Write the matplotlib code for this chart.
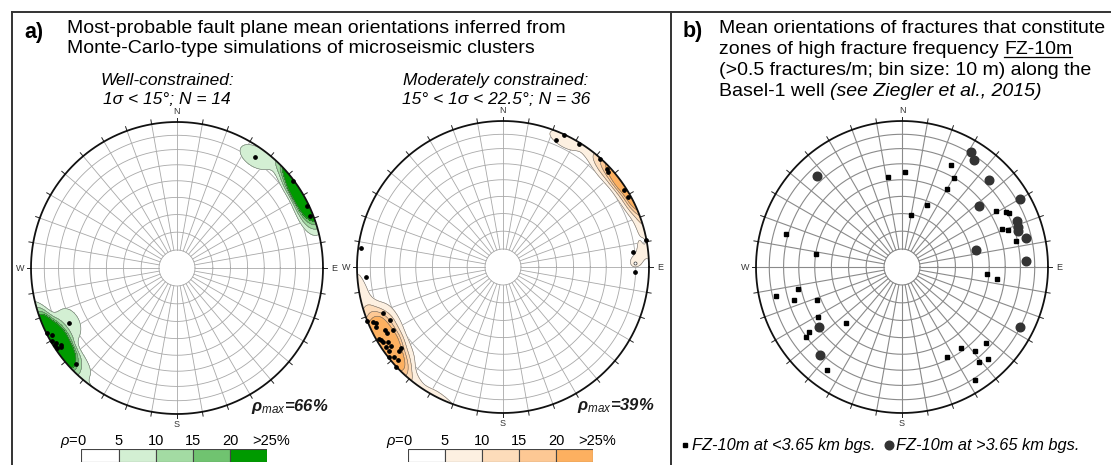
import numpy as np
import matplotlib.pyplot as plt
from matplotlib.patches import Circle

plt.rcParams["font.family"] = ["Liberation Sans", "DejaVu Sans"]
plt.rcParams["mathtext.fontset"] = "custom"
plt.rcParams["mathtext.rm"] = "Liberation Sans"
plt.rcParams["mathtext.it"] = "Liberation Sans:italic"
plt.rcParams["mathtext.bf"] = "Liberation Sans:bold:italic"

W, H, DPI = 1111, 465, 100

# ---- data: poles as (trend, plunge) in degrees ----
well_trend = [35, 53, 64.5, 68.7, 242.8, 243.5, 239.6, 237.8, 236.3, 236.5, 235.7, 226.4, 242, 238]
well_plunge = [7.6, 1, 1.2, 2.4, 18, 1, 1, 1.5, 1, 5.2, 4, 5, 3, 3]
well_rhomax = 66

mod_trend = [22.8, 25.0, 31.9, 41.9, 46.9, 47.9, 57.7, 60.7, 79.2, 83.2, 92.3, 277.8, 265.8,
             249.1, 244.6, 247.1, 248.2, 244.7, 241.9, 239.0, 238.0, 235.6, 233.7, 235.0,
             231.6, 230.3, 228.6, 231.6, 226.9, 239.9, 240.5, 246.2, 240.1, 231.1, 237]
mod_plunge = [6.3, 0.5, 1.3, 0.2, 2.4, 3.2, 2, 2, 0.4, 11.5, 10.6, 2.4, 6.3,
              12.7, 15.8, 3.4, 0, 4.2, 9.5, 2.6, 3.1, 3.2, 3.8, 6.8,
              12, 3.6, 4.2, 0.7, 0, 2.3, 9.2, 5.9, 14, 9.8, 7]
mod_open_trend = [88.1]
mod_open_plunge = [10.2]
mod_rhomax = 39

fz_shallow_trend = [2.0, 350.9, 25.8, 30.1, 30.0, 21.9, 9.8, 59.1, 62.0, 63.1, 69.2, 70.9, 77.1,
                    286.0, 278.8, 95.0, 97.1, 258.0, 256.9, 252.9, 249.0, 239.0, 225.1, 235.0,
                    233.8, 216.0, 132.2, 144.0, 139.2, 153.1, 137.0, 141.0, 147.1]
fz_shallow_plunge = [34.9, 37.9, 23.8, 29.9, 38.6, 52.1, 60.1, 26, 20.6, 19.2, 27.8, 24, 21,
                     18.8, 40, 41, 35, 27.8, 12.6, 23.6, 37.6, 33.6, 44.6, 23.6,
                     19.6, 13.6, 23.8, 31.8, 24.8, 31.8, 14.8, 17, 8.8]
fz_deep_trend = [31.0, 34.0, 45.0, 316.9, 60.0, 51.8, 68.1, 71.0, 72.9, 76.9, 77.2, 87.2,
                 117.0, 233.9, 223.0]
fz_deep_plunge = [8.8, 12.8, 16.8, 15.6, 7.8, 33, 15.9, 17.4, 17.9, 14, 46.8, 16.1,
                  9.8, 30.7, 18.6]

rho_levels = [0, 5, 10, 15, 20, 25]
green = ["#ffffff", "#d3efd3", "#a3dba3", "#70c370", "#009a00"]
orange = ["#ffffff", "#fdf0e1", "#fddcba", "#fdc894", "#fdb060"]

R = 146  # net radius in px
LIM = 1.18
CONE = 8.4    # counting cone half-angle (deg)
SOFT = 1.7    # edge softness (deg)


def proj(trend, plunge):
    t = np.radians(np.asarray(trend, float))
    p = np.radians(np.asarray(plunge, float))
    r = np.sqrt(2) * np.sin((np.pi / 2 - p) / 2)
    return r * np.sin(t), r * np.cos(t)


def vec(trend, plunge):
    t = np.radians(np.asarray(trend, float))
    p = np.radians(np.asarray(plunge, float))
    return np.stack([np.cos(p) * np.sin(t), np.cos(p) * np.cos(t), -np.sin(p)], axis=-1)


def density(trend, plunge, n=301):
    xs = np.linspace(-1.02, 1.02, n)
    X, Y = np.meshgrid(xs, xs)
    r = np.clip(np.hypot(X, Y), 0, 1)
    pl = 90 - 2 * np.degrees(np.arcsin(r / np.sqrt(2)))
    tr = np.degrees(np.arctan2(X, Y))
    c = np.clip(np.abs(vec(tr, pl) @ vec(trend, plunge).T), 0, 1)
    ang = np.degrees(np.arccos(c))
    w = 1.0 / (1.0 + np.exp((ang - CONE) / SOFT))
    return X, Y, 100.0 / len(trend) * w.sum(-1)


def net_axes(fig, cx, cy):
    ax = fig.add_axes([(cx - LIM * R) / W, (H - cy - LIM * R) / H,
                       2 * LIM * R / W, 2 * LIM * R / H])
    ax.set_xlim(-LIM, LIM)
    ax.set_ylim(-LIM, LIM)
    ax.axis("off")
    return ax


def draw_net(ax, gcol, glw):
    th = np.linspace(0, 2 * np.pi, 361)
    for pl in range(80, 0, -10):
        r = np.sqrt(2) * np.sin(np.radians(90 - pl) / 2)
        ax.plot(r * np.cos(th), r * np.sin(th), color=gcol, lw=glw, zorder=1)
    r0 = np.sqrt(2) * np.sin(np.radians(10) / 2)
    for az in range(0, 360, 10):
        a = np.radians(az)
        ax.plot([r0 * np.sin(a), np.sin(a)], [r0 * np.cos(a), np.cos(a)],
                color=gcol, lw=glw, zorder=1)
        ax.plot([np.sin(a), 1.03 * np.sin(a)], [np.cos(a), 1.03 * np.cos(a)],
                color="#222", lw=0.7, zorder=3)
    ax.plot(np.cos(th), np.sin(th), color="#111", lw=1.3, zorder=3)
    for lab, az in zip("NESW", [0, 90, 180, 270]):
        a = np.radians(az)
        ax.text(1.075 * np.sin(a), 1.075 * np.cos(a), lab, fontsize=6.5, color="#333",
                ha="center", va="center")


def draw_density(ax, trend, plunge, cols):
    X, Y, d = density(trend, plunge)
    clip = Circle((0, 0), 1, transform=ax.transData)
    cf = ax.contourf(X, Y, d, levels=rho_levels[1:-1] + [1e4], colors=cols[1:], zorder=2)
    cf.set_clip_path(clip)
    cl = ax.contour(X, Y, d, levels=rho_levels[1:-1], colors="#666", linewidths=0.4, zorder=2.1)
    cl.set_clip_path(clip)


fig = plt.figure(figsize=(W / DPI, H / DPI), dpi=DPI)
ax0 = fig.add_axes([0, 0, 1, 1])
ax0.set_xlim(0, W)
ax0.set_ylim(H, 0)
ax0.axis("off")

# frame
ax0.plot([12, W], [12, 12], color="#333", lw=1.4)
ax0.plot([12, 12], [12, H], color="#333", lw=1.4)
ax0.plot([671, 671], [12, H], color="#333", lw=1.4)

TFS = 14
SFS = 12.5
ax0.text(24, 38, "a)", fontsize=15.5, fontweight="bold")
ax0.text(67, 33, "Most-probable fault plane mean orientations inferred from", fontsize=TFS)
ax0.text(67, 53, "Monte-Carlo-type simulations of microseismic clusters", fontsize=TFS)
ax0.text(167, 85, "Well-constrained:", fontsize=SFS, style="italic", ha="center")
ax0.text(167, 104, "1σ < 15°; N = 14", fontsize=SFS, style="italic", ha="center")
ax0.text(496, 85, "Moderately constrained:", fontsize=SFS, style="italic", ha="center")
ax0.text(496, 104, "15° < 1σ < 22.5°; N = 36", fontsize=SFS, style="italic", ha="center")

ax0.text(683, 37, "b)", fontsize=15.5, fontweight="bold")
ax0.text(719, 33, "Mean orientations of fractures that constitute", fontsize=TFS)
t2 = ax0.text(719, 54, "zones of high fracture frequency", fontsize=TFS)
ax0.text(719, 75, "(>0.5 fractures/m; bin size: 10 m) along the", fontsize=TFS)
t4 = ax0.text(719, 96, "Basel-1 well", fontsize=TFS)

fig.canvas.draw()
rend = fig.canvas.get_renderer()
inv = ax0.transData.inverted()
gap = 0.278 * TFS * DPI / 72
x2 = inv.transform(t2.get_window_extent(rend))[:, 0].max() + gap
fz = ax0.text(x2, 54, "FZ-10m", fontsize=TFS)
x4 = inv.transform(t4.get_window_extent(rend))[:, 0].max() + gap
ax0.text(x4, 96, "(see Ziegler et al., 2015)", fontsize=TFS, style="italic")
fig.canvas.draw()
fb = inv.transform(fz.get_window_extent(rend))
ax0.plot([fb[:, 0].min(), fb[:, 0].max()], [57, 57], color="black", lw=0.9)

# nets
nets = [(177, 268, well_trend, well_plunge, green, well_rhomax),
        (503, 267, mod_trend, mod_plunge, orange, mod_rhomax)]
for cx, cy, tr, pl, cols, rmax in nets:
    ax = net_axes(fig, cx, cy)
    draw_net(ax, "#a8a8a8", 0.6)
    draw_density(ax, tr, pl, cols)
    x, y = proj(tr, pl)
    ax.plot(x, y, "o", color="black", ms=2.4, zorder=4)
    ax0.text(cx + 113, cy + 143, r"$\mathbf{\rho}_{max}$=%d%%" % rmax, fontsize=12,
             fontweight="bold", style="italic", ha="center", color="#1a1a1a")

    # colour scale
    x0, wbar = cx - 95.5, 185.6
    cax = fig.add_axes([x0 / W, (H - 462) / H, wbar / W, 13 / H])
    cax.bar(np.arange(5), 1, width=1, align="edge", color=cols, edgecolor="#444", lw=0.8)
    cax.set_xlim(0, 5)
    cax.set_ylim(0, 1)
    cax.axis("off")
    step = wbar / 5
    for i, lv in enumerate(rho_levels):
        xb = x0 + i * step
        if i == 0:
            ax0.text(xb + 5, 445, r"$\rho$=0", fontsize=10.5, ha="right")
        elif i == 5:
            ax0.text(xb + 4, 445, ">%d%%" % lv, fontsize=10.5, ha="center")
        else:
            ax0.text(xb, 445, "%d" % lv, fontsize=10.5, ha="center")

ax2 = net_axes(fig, 503, 267)
x, y = proj(mod_open_trend, mod_open_plunge)
ax2.plot(x, y, "o", mfc="white", mec="#333", ms=2.2, mew=0.5, zorder=5)

ax3 = net_axes(fig, 902, 267)
draw_net(ax3, "#8a8a8a", 0.8)
x, y = proj(fz_shallow_trend, fz_shallow_plunge)
ax3.plot(x, y, "s", color="black", ms=2.3, zorder=4)
x, y = proj(fz_deep_trend, fz_deep_plunge)
ax3.plot(x, y, "o", color="#333", ms=6.2, zorder=4)

# legend for panel b
ax0.plot([685], [445], "s", color="black", ms=2.3)
ax0.text(692, 450, "FZ-10m at <3.65 km bgs.", fontsize=11.8, style="italic")
ax0.plot([889], [445], "o", color="#333", ms=6.2)
ax0.text(896, 450, "FZ-10m at >3.65 km bgs.", fontsize=11.8, style="italic")

fig.savefig("out.png", dpi=DPI)
